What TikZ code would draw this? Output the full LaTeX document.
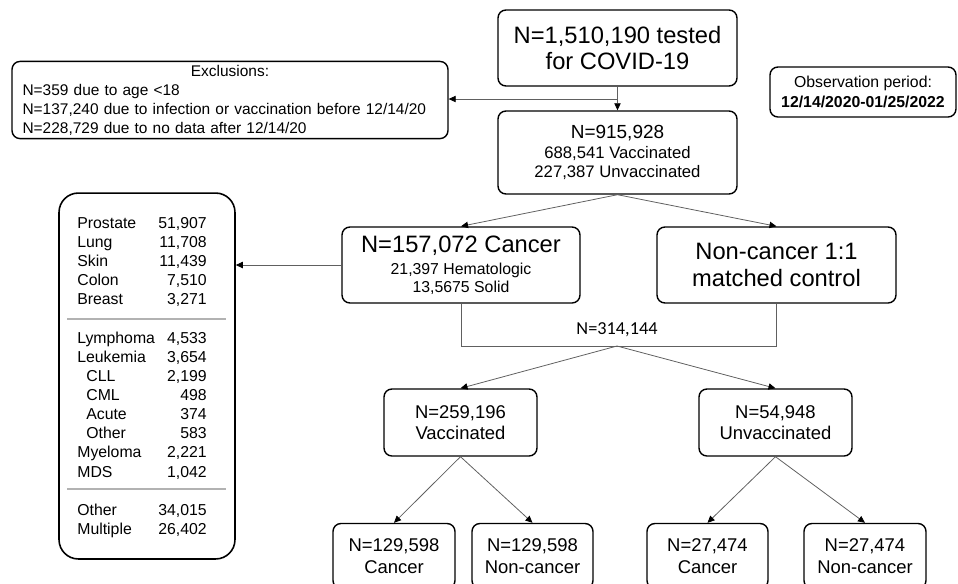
\documentclass[tikz,border=0pt]{standalone}
\usepackage{fontspec}
\setmainfont{Liberation Sans}
\newfontfamily\calibfont{Carlito}
\usetikzlibrary{positioning, arrows.meta}
\tikzset{
  box/.style={draw, rounded corners=4.5pt, line width=0.8pt, align=center, inner sep=2pt},
  big/.style={font=\fontsize{13.5}{15.3}\selectfont},
  mid/.style={font=\fontsize{10.5}{12}\selectfont},
  sml/.style={font=\fontsize{8.8}{10.8}\selectfont},
  cn/.style={-{Triangle[length=4pt, width=3.6pt, black]}, gray!75!black, line width=0.45pt},
  ln/.style={gray!75!black, line width=0.45pt},
  sepl/.style={gray!60, line width=0.9pt},
  tabtxt/.style={font=\fontsize{9}{10.8}\selectfont, inner sep=0pt}
}

\begin{document}
\begin{tikzpicture}[x=0.02cm, y=-0.02cm]
  \useasboundingbox (0,0) rectangle (958,583);
  % top row
  \node[box, big, minimum width=4.78cm, minimum height=1.52cm] (test) at (617.5,48) {N=1,510,190 tested\\for COVID-19};
  \node[box, sml, align=left, text width=8.3cm, inner xsep=0.21cm, minimum height=1.52cm] (excl) at (230,100)
    {\makebox[\hsize]{Exclusions:}\\N=359 due to age <18\\N=137,240 due to infection or vaccination before 12/14/20\\N=228,729 due to no data after 12/14/20};
  \node[box, font=\fontsize{9}{11.3}\selectfont, minimum width=3.72cm, minimum height=1cm] (obs) at (863,92) {Observation period:\\\textbf{12/14/2020-01/25/2022}};
  \node[box, font=\fontsize{9.5}{11.3}\selectfont, minimum width=4.78cm, minimum height=1.66cm] (tot) at (617.5,152.5)
    {{\fontsize{10.8}{11.3}\selectfont N=915,928}\\688,541 Vaccinated\\227,387 Unvaccinated};
  % cancer / control
  \node[box, font=\fontsize{9}{10.2}\selectfont, minimum width=4.76cm, minimum height=1.52cm] (canc) at (461,265)
    {{\fontsize{13.5}{15}\selectfont N=157,072 Cancer}\\[2.5pt]21,397 Hematologic\\13,5675 Solid};
  \node[box, big, minimum width=4.78cm, minimum height=1.52cm] (ctrl) at (776.5,265) {Non-cancer 1:1\\matched control};
  \node[box, rounded corners=11pt, line width=0.9pt, minimum width=3.52cm, minimum height=7.32cm] (tab) at (147,376) {};
  \foreach \lab/\num/\r/\ix in {Prostate/{51,907}/0/0, Lung/{11,708}/1/0, Skin/{11,439}/2/0, Colon/{7,510}/3/0,
      Breast/{3,271}/4/0, Lymphoma/{4,533}/6/0, Leukemia/{3,654}/7/0, CLL/{2,199}/8/9, CML/498/9/9,
      Acute/374/10/9, Other/583/11/9, Myeloma/{2,221}/12/0, MDS/{1,042}/13/0, Other/{34,015}/15/0, Multiple/{26,402}/16/0}{
    \node[tabtxt, anchor=base west] (lab\r) at (77+\ix, 228.5+19.12*\r) {\lab};
    \node[tabtxt, anchor=base east] (num\r) at (207, 228.5+19.12*\r) {\num};
  }
  \draw[sepl] (67,319) -- (226,319);
  \draw[sepl] (67,489) -- (226,489);
  % vaccination split
  \node[box, mid, minimum width=3.06cm, minimum height=1.34cm] (vac) at (460.5,422.5) {N=259,196\\Vaccinated};
  \node[box, mid, minimum width=3.06cm, minimum height=1.34cm] (unv) at (775.5,422.5) {N=54,948\\Unvaccinated};
  % bottom row
  \node[box, mid, font=\fontsize{10.5}{12.5}\selectfont, minimum width=2.44cm, minimum height=1.3cm] (c1) at (394,556) {N=129,598\\Cancer};
  \node[box, mid, font=\fontsize{10.5}{12.5}\selectfont, minimum width=2.42cm, minimum height=1.3cm] (n1) at (532.5,556) {N=129,598\\Non-cancer};
  \node[box, mid, font=\fontsize{10.5}{12.5}\selectfont, minimum width=2.42cm, minimum height=1.3cm] (c2) at (707.5,556) {N=27,474\\Cancer};
  \node[box, mid, font=\fontsize{10.5}{12.5}\selectfont, minimum width=2.44cm, minimum height=1.3cm] (n2) at (865,556) {N=27,474\\Non-cancer};
  % connectors
  \coordinate (sp) at (test.south |- 0,99);
  \coordinate (mg) at (617,346);
  \draw[cn] (test.south) -- (tot.north);
  \draw[cn] (sp) -- (sp -| excl.east);
  \draw[cn] (tot.south) -- (canc.north);
  \draw[cn] (tot.south) -- (ctrl.north);
  \draw[cn] (canc.west) -- (canc.west -| tab.east);
  \draw[ln] (canc.south) |- (mg) -| (ctrl.south);
  \node[font=\calibfont\fontsize{10.4}{12}\selectfont] (nmg) at (617,330) {N=314,144};
  \draw[cn] (mg) -- (vac.north);
  \draw[cn] (mg) -- (unv.north);
  \draw[cn] (vac.south) -- (c1.north);
  \draw[cn] (vac.south) -- (n1.north);
  \draw[cn] (unv.south) -- (c2.north);
  \draw[cn] (unv.south) -- (n2.north);
\end{tikzpicture}
\end{document}
